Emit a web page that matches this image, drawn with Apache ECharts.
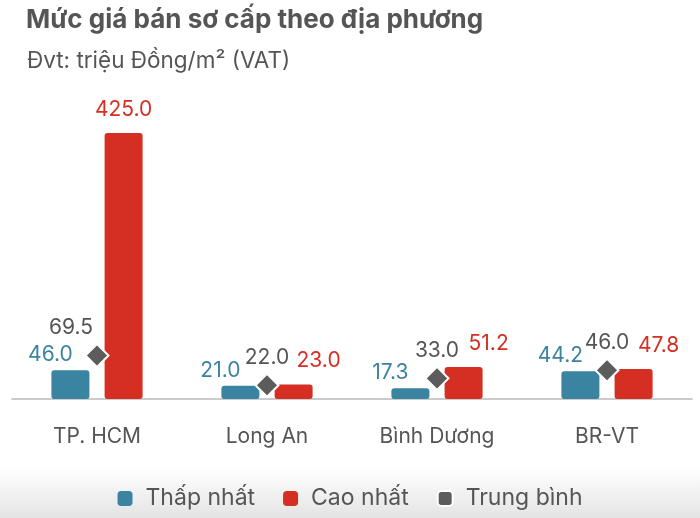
<!DOCTYPE html>
<html>
<head>
<meta charset="utf-8">
<script src="https://cdn.jsdelivr.net/npm/echarts@6/dist/echarts.min.js"></script>
<style>
  html, body { margin: 0; padding: 0; background: #fff; }
  #chart { width: 700px; height: 518px; }
</style>
</head>
<body>
<div id="chart"></div>
<script>
// du lieu doc tu hinh
var categories = ['TP. HCM', 'Long An', 'Bình Dương', 'BR-VT'];
var lowValues = [46.0, 21.0, 17.3, 44.2];
var highValues = [425.0, 23.0, 51.2, 47.8];
var avgValues = [69.5, 22.0, 33.0, 46.0];

var BLUE = '#3a83a1';
var RED = '#d52f23';
var GREY = '#5c5c5c';
var FONT = 'Inter, Roboto, sans-serif';

function fmt(p) { return p.value.toFixed(1); }

var chart = echarts.init(document.getElementById('chart'));

// HCM: nhan cao nhat nam giua cot, nhan trung binh day sang trai
var highData = highValues.map(function (v, i) {
  if (i === 0) return { value: v, label: { offset: [0, 0] } };
  return v;
});
var avgData = avgValues.map(function (v, i) {
  if (i === 0) return { value: v, label: { offset: [-26, 0] } };
  return v;
});

var option = {
  backgroundColor: '#fff',
  textStyle: { fontFamily: FONT },
  graphic: [{
    type: 'rect',
    left: 0,
    bottom: 0,
    z: -10,
    shape: { width: 700, height: 50 },
    style: {
      fill: new echarts.graphic.LinearGradient(0, 0, 0, 1, [
        { offset: 0, color: 'rgba(255,255,255,1)' },
        { offset: 1, color: 'rgba(228,228,228,1)' }
      ])
    }
  }],
  title: [{
    text: 'Mức giá bán sơ cấp theo địa phương',
    left: 21,
    top: 2,
    textStyle: { fontFamily: FONT, fontSize: 26, fontWeight: 'bold', color: '#555' }
  }, {
    text: 'Đvt: triệu Đồng/m² (VAT)',
    left: 22,
    top: 45,
    textStyle: { fontFamily: FONT, fontSize: 22.5, fontWeight: 'normal', color: '#555' }
  }],
  legend: {
    bottom: 3,
    left: 'center',
    itemWidth: 15,
    itemHeight: 15,
    itemGap: 28,
    icon: 'roundRect',
    textStyle: { fontFamily: FONT, fontSize: 23, color: '#555', padding: [0, 0, 0, 8] },
    data: ['Thấp nhất', 'Cao nhất', 'Trung bình']
  },
  grid: { left: 12, right: 8, top: 133, bottom: 119 },
  xAxis: {
    type: 'category',
    data: categories,
    axisLine: { lineStyle: { color: '#bbb', width: 1.5 } },
    axisTick: { show: false },
    axisLabel: { fontSize: 21, color: '#555', margin: 27, fontFamily: FONT }
  },
  yAxis: {
    type: 'value',
    min: 0,
    max: 425,
    show: false,
    splitLine: { show: false }
  },
  series: [{
    name: 'Thấp nhất',
    type: 'bar',
    data: lowValues,
    barWidth: 38,
    barGap: '40%',
    itemStyle: { color: BLUE, borderRadius: 3 },
    label: {
      show: true, position: 'top', distance: 5, offset: [-20, 0],
      formatter: fmt, color: BLUE, fontSize: 21, fontFamily: FONT
    }
  }, {
    name: 'Cao nhất',
    type: 'bar',
    data: highData,
    barWidth: 38,
    itemStyle: { color: RED, borderRadius: 3 },
    label: {
      show: true, position: 'top', distance: 13, offset: [25, 0],
      formatter: fmt, color: RED, fontSize: 21, fontFamily: FONT
    }
  }, {
    name: 'Trung bình',
    type: 'scatter',
    data: avgData,
    symbol: 'diamond',
    symbolSize: [23, 23],
    z: 5,
    itemStyle: { color: GREY, borderColor: '#fff', borderWidth: 2, opacity: 1 },
    label: {
      show: true, position: 'top', distance: 5,
      formatter: fmt, color: '#555', fontSize: 21, fontFamily: FONT
    }
  }]
};

chart.setOption(option);
</script>
</body>
</html>
